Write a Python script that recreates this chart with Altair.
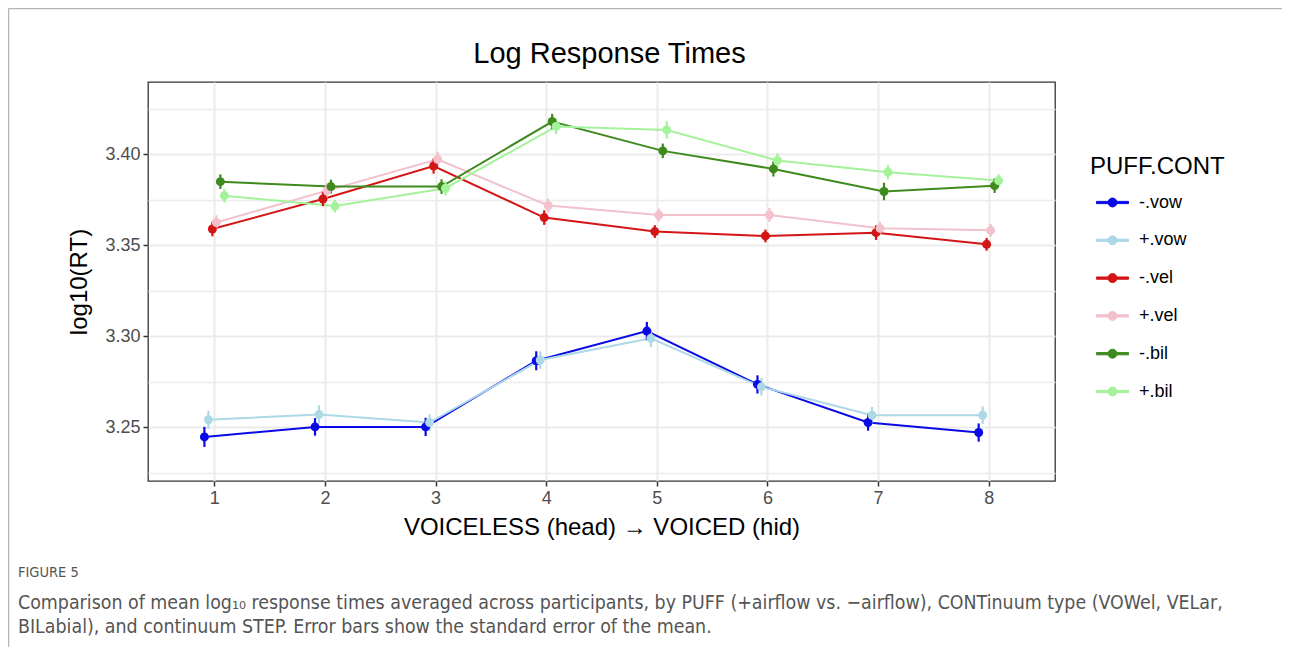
import json
import altair as alt
import pandas as pd

# ---------------- data ----------------
steps = [1, 2, 3, 4, 5, 6, 7, 8]
groups = ["-.vow", "+.vow", "-.vel", "+.vel", "-.bil", "+.bil"]
colors = ["#0A0AE6", "#ADD8E6", "#D41515", "#F2C1CC", "#3E8A1E", "#A4F29A"]

rt_minus_vow = [3.2448, 3.2503, 3.2503, 3.2866, 3.3029, 3.2736, 3.2527, 3.2472]
rt_plus_vow = [3.2542, 3.2571, 3.2527, 3.2870, 3.2989, 3.2723, 3.2567, 3.2567]
rt_minus_vel = [3.3589, 3.3754, 3.3935, 3.3652, 3.3575, 3.3551, 3.3569, 3.3505]
rt_plus_vel = [3.3625, 3.3800, 3.3972, 3.3718, 3.3666, 3.3666, 3.3593, 3.3582]
rt_minus_bil = [3.3849, 3.3822, 3.3822, 3.4179, 3.4018, 3.3919, 3.3795, 3.3827]
rt_plus_bil = [3.3772, 3.3715, 3.3813, 3.4152, 3.4133, 3.3965, 3.3901, 3.3855]

se_minus_vow = [0.0055, 0.0048, 0.0050, 0.0052, 0.0050, 0.0050, 0.0045, 0.0050]
se_plus_vow = [0.0050, 0.0050, 0.0045, 0.0048, 0.0048, 0.0048, 0.0045, 0.0048]
se_minus_vel = [0.0040, 0.0040, 0.0042, 0.0040, 0.0035, 0.0035, 0.0040, 0.0035]
se_plus_vel = [0.0040, 0.0040, 0.0042, 0.0038, 0.0035, 0.0038, 0.0035, 0.0035]
se_minus_bil = [0.0040, 0.0038, 0.0040, 0.0042, 0.0040, 0.0042, 0.0048, 0.0040]
se_plus_bil = [0.0038, 0.0035, 0.0040, 0.0042, 0.0048, 0.0040, 0.0040, 0.0035]

title_text = "Log Response Times"
x_title = "VOICELESS (head) \u2192 VOICED (hid)"
y_title = "log10(RT)"
legend_title = "PUFF.CONT"
fig_label = "FIGURE 5"
caption_1 = ("Comparison of mean log\u2081\u2080 response times averaged across participants, by PUFF "
             "(+airflow vs. \u2212airflow), CONTinuum type (VOWel, VELar,")
caption_2 = "BILabial), and continuum STEP. Error bars show the standard error of the mean."

rts = [rt_minus_vow, rt_plus_vow, rt_minus_vel, rt_plus_vel, rt_minus_bil, rt_plus_bil]
ses = [se_minus_vow, se_plus_vow, se_minus_vel, se_plus_vel, se_minus_bil, se_plus_bil]

rows = []
for g, rt, se in zip(groups, rts, ses):
    for s, r, e in zip(steps, rt, se):
        rows.append({"group": g, "step": s, "rt": r, "se": e})
df = pd.DataFrame(rows)

FONT = "Liberation Sans, Arial, Helvetica, sans-serif"
NARROW = "Liberation Sans Narrow, Arial Narrow, DejaVu Sans Condensed, Roboto Condensed, sans-serif"

W, H = 907, 399
PAD = {"left": 140, "top": 74, "right": 227, "bottom": 166}

major = "round(datum.value * 1000) % 50 === 0"

xscale = alt.Scale(domain=[0.4, 8.6], nice=False, zero=False)
yscale = alt.Scale(domain=[3.2206, 3.4396], nice=False, zero=False)

xaxis = alt.Axis(
    title=x_title, values=steps, format="d", domain=False,
    tickColor="#333333", tickWidth=1.5, tickSize=5,
    labelColor="#4D4D4D", labelFontSize=18, labelFont=FONT, labelPadding=3,
    titleFont=FONT, titleFontSize=24, titleFontWeight="normal", titleColor="black",
    titlePadding=8, grid=True, gridColor="#EBEBEB", gridWidth=2,
)
yaxis = alt.Axis(
    title=y_title,
    values=[3.225, 3.25, 3.275, 3.30, 3.325, 3.35, 3.375, 3.40, 3.425],
    labelExpr=f"{major} ? format(datum.value, '.2f') : ''",
    domain=False,
    tickColor={"condition": {"test": major, "value": "#333333"}, "value": "transparent"},
    tickWidth=1.5, tickSize=5,
    labelColor="#4D4D4D", labelFontSize=18, labelFont=FONT, labelPadding=3,
    titleFont=FONT, titleFontSize=24, titleFontWeight="normal", titleColor="black",
    titlePadding=13, grid=True, gridColor="#EBEBEB",
    gridWidth={"condition": {"test": major, "value": 2}, "value": 1.5},
)

sym_path = ("M-1,-0.07L1,-0.07L1,0.07L-1,0.07Z"
            "M-0.28,0A0.28,0.28,0,1,1,0.28,0A0.28,0.28,0,1,1,-0.28,0Z")

color_scale = alt.Scale(domain=groups, range=colors)
legend = alt.Legend(
    title=legend_title, orient="none", legendX=942, legendY=73,
    symbolType=sym_path, symbolSize=1024, symbolOffset=6, symbolOpacity=1,
    symbolStrokeWidth=1, labelOffset=10, rowPadding=11.8,
    titleFont=FONT, titleFontSize=24, titleFontWeight="normal", titleColor="black",
    titlePadding=7, labelFont=FONT, labelFontSize=18, labelColor="black",
)
color_enc = alt.Color("group:N", scale=color_scale, legend=legend)

base = alt.Chart(df).transform_calculate(
    xpos=f"datum.step + (indexof({json.dumps(groups)}, datum.group) - 2.5) * 0.036",
    lo="datum.rt - datum.se",
    hi="datum.rt + datum.se",
)

x_enc = alt.X("xpos:Q", scale=xscale, axis=xaxis)

lines = base.mark_line(strokeWidth=2).encode(
    x=x_enc,
    y=alt.Y("rt:Q", scale=yscale, axis=yaxis),
    color=color_enc,
    order=alt.Order("step:Q"),
)
bars = base.mark_rule(strokeWidth=2.2).encode(
    x=x_enc,
    y=alt.Y("lo:Q", scale=yscale, axis=yaxis),
    y2="hi:Q",
    color=color_enc,
)
points = base.mark_circle(size=80, opacity=1).encode(
    x=x_enc,
    y=alt.Y("rt:Q", scale=yscale, axis=yaxis),
    color=color_enc,
)

one = pd.DataFrame({"k": [0]})
frame_left = alt.Chart(one).mark_rule(color="#B5B5B5", strokeWidth=1.5).encode(
    x=alt.value(-139.5), y=alt.value(-73.5), y2=alt.value(565))
frame_top = alt.Chart(one).mark_rule(color="#B5B5B5", strokeWidth=1.5).encode(
    x=alt.value(-139.5), x2=alt.value(1134), y=alt.value(-73.5))

title_mark = alt.Chart(one).mark_text(text=title_text, align="center", baseline="middle",
                                      font=FONT, fontSize=29, color="black").encode(
    x=alt.value(W / 2 + 8), y=alt.value(-28))

cap0 = alt.Chart(one).mark_text(text=fig_label, align="left", baseline="middle",
                                font=NARROW, fontSize=14.5, color="#555555").encode(
    x=alt.value(-130), y=alt.value(491))
cap1 = alt.Chart(one).mark_text(text=caption_1, align="left", baseline="middle",
                                font=NARROW, fontSize=19.4, color="#555555").encode(
    x=alt.value(-130), y=alt.value(521))
cap2 = alt.Chart(one).mark_text(text=caption_2, align="left", baseline="middle",
                                font=NARROW, fontSize=19.4, color="#555555").encode(
    x=alt.value(-130), y=alt.value(545))

chart = alt.layer(lines, bars, points, frame_left, frame_top, title_mark,
                  cap0, cap1, cap2).properties(
    width=W, height=H,
    padding=PAD,
    autosize=alt.AutoSizeParams(type="none"),
    background="white",
).configure_view(stroke="#333333", strokeWidth=1.3)

chart.save("out.html", embed_options={"renderer": "svg", "actions": False})
